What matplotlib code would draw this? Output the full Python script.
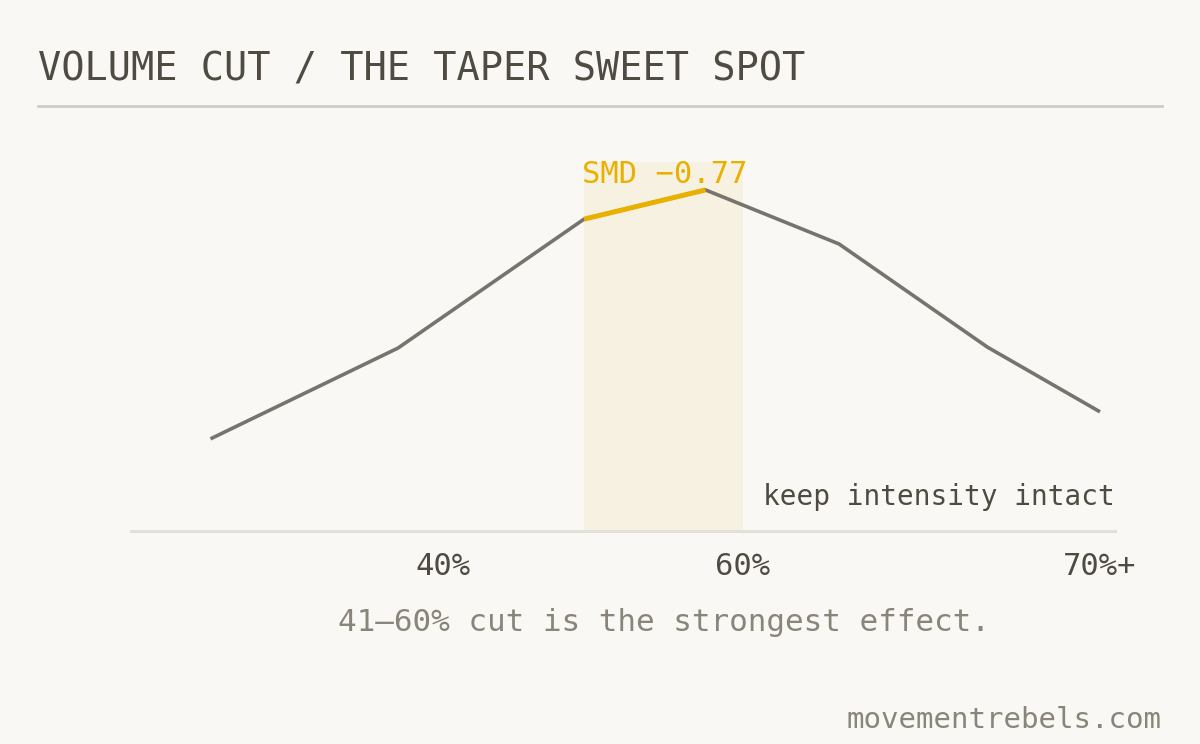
import matplotlib
matplotlib.use("Agg")
import matplotlib.pyplot as plt
from matplotlib.lines import Line2D

# volume cut (% of normal training volume) vs effect size magnitude
cut_pct = [24.5, 37.0, 49.4, 57.5, 66.4, 76.3, 83.8]
smd_abs = [0.208, 0.413, 0.704, 0.770, 0.648, 0.415, 0.269]
tick_pos = [40, 60, 83.8]
tick_labels = ["40%", "60%", "70%+"]
band = (49.4, 60.0)
hi_idx = (2, 3)

BG = "#f9f8f4"
INK = "#4f4b43"
MUTED = "#8a857a"
LINE = "#76746d"
GOLD = "#e8b000"
MONO = "DejaVu Sans Mono"

W, H = 1200, 744
fig = plt.figure(figsize=(W / 100, H / 100), dpi=100, facecolor=BG)

# title + rule
fig.text(38 / W, 1 - 80 / H, "VOLUME CUT / THE TAPER SWEET SPOT",
         family=MONO, fontsize=27.8, color=INK, ha="left", va="baseline")
fig.add_artist(Line2D([38 / W, 1162 / W], [1 - 106 / H, 1 - 106 / H],
                      color="#cfcdc6", lw=2.0, transform=fig.transFigure))

ax = fig.add_axes([131 / W, 1 - 531 / H, 984 / W, 400 / H])
ax.set_facecolor(BG)
ax.set_xlim(19.2, 84.8)
ax.set_ylim(0, 0.903)

# highlighted band
ax.fill_between(band, 0, 0.833, color="#f7f1e1", lw=0, zorder=1)

ax.plot(cut_pct, smd_abs, color=LINE, lw=2.6, solid_capstyle="butt",
        solid_joinstyle="miter", zorder=3)
i, j = hi_idx
ax.plot(cut_pct[i:j + 1], smd_abs[i:j + 1], color=GOLD, lw=3.6,
        solid_capstyle="butt", zorder=4)

ax.text(cut_pct[i] - 0.15, 0.786, f"SMD \u2212{smd_abs[j]:.2f}",
        family=MONO, fontsize=22, color=GOLD, ha="left", va="baseline", zorder=5)
ax.text(84.8, 0.059, "keep intensity intact", family=MONO, fontsize=20,
        color=INK, ha="right", va="baseline", zorder=5)

for s in ["top", "left", "right"]:
    ax.spines[s].set_visible(False)
ax.spines["bottom"].set_color("#e2e0d8")
ax.spines["bottom"].set_linewidth(2.2)
ax.set_yticks([])
ax.set_xticks(tick_pos)
ax.set_xticklabels(tick_labels, family=MONO, fontsize=22, color=INK)
ax.tick_params(axis="x", length=0, pad=15)

fig.text(664 / W, 1 - 631 / H, "41\u201360% cut is the strongest effect.",
         family=MONO, fontsize=22.3, color=MUTED, ha="center", va="baseline")
fig.text(1162 / W, 1 - 728 / H, "movementrebels.com", family=MONO,
         fontsize=21, color=MUTED, ha="right", va="baseline")

fig.savefig("out.png", dpi=100, facecolor=BG)
